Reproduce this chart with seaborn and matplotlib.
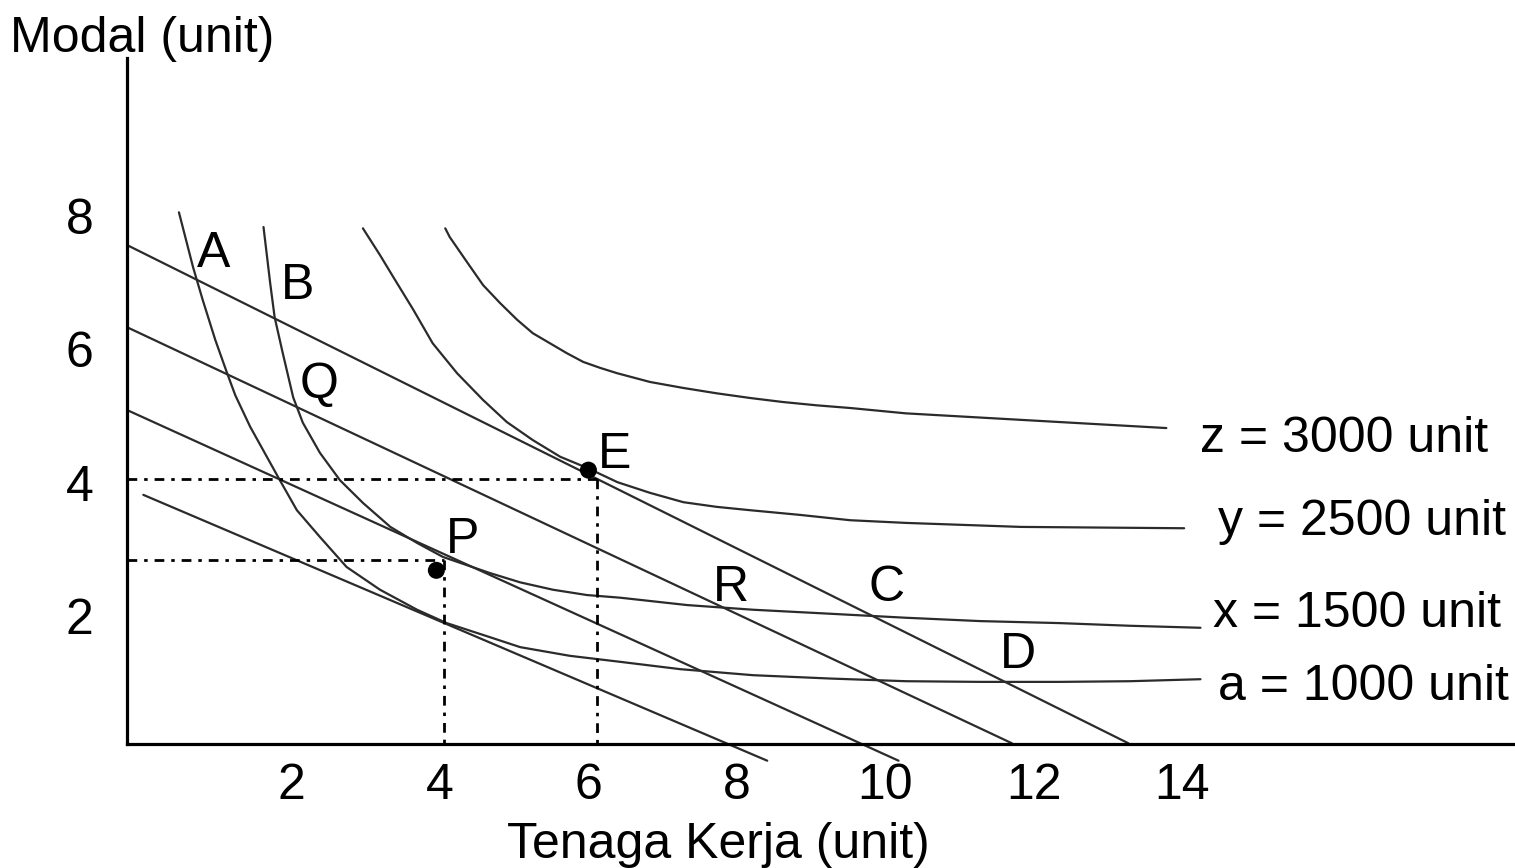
import pandas as pd
import matplotlib
matplotlib.use("Agg")
import matplotlib.pyplot as plt
import seaborn as sns

# isoquant curves (tenaga kerja, modal)
a_x = [0.48, 0.67, 0.80, 0.97, 1.13, 1.24, 1.44, 1.84, 2.07, 2.38, 2.74, 3.19, 3.69, 4.09, 4.67, 5.08, 5.75,
       6.43, 7.24, 8.22, 9.26, 10.28, 11.28, 12.35, 13.30, 14.25]
a_y = [8.05, 7.23, 6.74, 6.14, 5.64, 5.31, 4.84, 4.04, 3.59, 3.19, 2.74, 2.40, 2.10, 1.90, 1.69, 1.54, 1.41,
       1.32, 1.21, 1.12, 1.07, 1.03, 1.02, 1.02, 1.03, 1.06]
x_x = [1.62, 1.71, 1.77, 1.88, 2.02, 2.15, 2.38, 2.65, 2.96, 3.33, 3.69, 4.04, 4.67, 5.08, 5.52, 5.98, 6.43,
       7.33, 8.22, 9.26, 10.28, 11.28, 12.35, 13.30, 14.25]
x_y = [7.83, 6.99, 6.48, 5.94, 5.28, 4.90, 4.45, 4.04, 3.70, 3.34, 3.10, 2.89, 2.65, 2.51, 2.40, 2.32, 2.28,
       2.17, 2.10, 2.04, 1.98, 1.93, 1.90, 1.86, 1.83]
y_x = [2.96, 3.19, 3.37, 3.64, 3.90, 4.23, 4.58, 4.90, 5.25, 5.62, 5.99, 6.39, 6.83, 7.28, 7.73, 8.18, 8.85,
       9.53, 10.28, 11.83, 14.03]
y_y = [7.81, 7.41, 7.08, 6.59, 6.09, 5.64, 5.24, 4.91, 4.64, 4.39, 4.22, 4.01, 3.85, 3.71, 3.64, 3.59, 3.52,
       3.44, 3.40, 3.34, 3.32]
z_x = [4.07, 4.13, 4.36, 4.58, 4.81, 5.04, 5.25, 5.48, 5.71, 5.93, 6.16, 6.39, 6.83, 7.28, 7.73, 8.18, 8.62,
       9.08, 9.53, 10.28, 12.35, 13.79]
z_y = [7.81, 7.68, 7.31, 6.96, 6.69, 6.44, 6.24, 6.09, 5.94, 5.81, 5.72, 5.64, 5.51, 5.42, 5.34, 5.27, 5.21,
       5.16, 5.12, 5.04, 4.91, 4.82]
curve_names = ["a = 1000 unit", "x = 1500 unit", "y = 2500 unit", "z = 3000 unit"]

# isocost lines (start / end)
iso_x = [[-0.22, 13.28], [-0.22, 11.71], [-0.22, 10.18], [0.0, 8.41]]
iso_y = [[7.56, 0.10], [6.33, 0.10], [5.09, -0.16], [3.82, -0.16]]

# equilibrium points and their guide lines
pt_names = ["E", "P"]
pt_x = [6.00, 3.95]
pt_y = [4.19, 2.69]
guide_x = [6.12, 4.05]
guide_y = [4.06, 2.84]

x_ticks = [2, 4, 6, 8, 10, 12, 14]
y_ticks = [2, 4, 6, 8]

sns.set_style("white")
plt.rcParams["font.family"] = ["Liberation Sans", "DejaVu Sans"]
plt.rcParams["lines.scale_dashes"] = False
plt.rcParams["text.color"] = "black"
plt.rcParams["xtick.color"] = "black"
plt.rcParams["ytick.color"] = "black"

curves = pd.concat([
    pd.DataFrame({"tenaga": cx, "modal": cy, "kurva": name})
    for cx, cy, name in zip([a_x, x_x, y_x, z_x], [a_y, x_y, y_y, z_y], curve_names)
])
lines = pd.concat([
    pd.DataFrame({"tenaga": lx, "modal": ly, "garis": i})
    for i, (lx, ly) in enumerate(zip(iso_x, iso_y))
])

fig = plt.figure(figsize=(15.15, 8.68), dpi=100)
ax = fig.add_axes([127 / 1515, 124 / 868, 1388 / 1515, 686 / 868])
ink = "#2b2b2b"

sns.lineplot(data=curves, x="tenaga", y="modal", units="kurva", estimator=None,
             sort=False, color=ink, lw=1.6, ax=ax)
sns.lineplot(data=lines, x="tenaga", y="modal", units="garis", estimator=None,
             sort=False, color=ink, lw=1.6, ax=ax)
for line in ax.lines:
    line.set_clip_on(False)
    line.set_solid_joinstyle("round")

dash = (0, (7, 5, 2.5, 5))
for gx, gy in zip(guide_x, guide_y):
    ax.plot([-0.22, gx], [gy, gy], color="black", lw=2, ls=dash)
    ax.plot([gx, gx], [gy, 0.09], color="black", lw=2, ls=dash)

sns.scatterplot(x=pt_x, y=pt_y, color="black", s=150, edgecolor="none", ax=ax, zorder=5)

fs = 36
letters = {"A": (0.72, 7.23), "B": (1.86, 6.75), "Q": (2.11, 5.27), "E": (6.13, 4.22),
           "P": (4.08, 2.95), "R": (7.68, 2.23), "C": (9.77, 2.23), "D": (11.55, 1.23)}
for s, (tx, ty) in letters.items():
    ax.text(tx, ty, s, fontsize=fs, ha="left", va="baseline")

label_pos = [(14.48, 0.75), (14.42, 1.84), (14.48, 3.22), (14.25, 4.46)]
for name, (tx, ty) in zip(curve_names, label_pos):
    ax.text(tx, ty, name, fontsize=fs, ha="left", va="baseline")

ax.set_xlim(-0.22, 18.49)
ax.set_ylim(0.09, 10.36)
ax.set_xticks(x_ticks)
ax.set_yticks(y_ticks)
ax.tick_params(axis="x", length=0, pad=13.5, labelsize=fs, labelcolor="black")
ax.tick_params(axis="y", length=0, pad=24, labelsize=fs, labelcolor="black")
ax.set_xlabel("")
ax.set_ylabel("")
sns.despine(ax=ax)
for side in ["left", "bottom"]:
    ax.spines[side].set_linewidth(2.3)
    ax.spines[side].set_color("black")

fig.text(10 / 1515, (868 - 52) / 868, "Modal (unit)", fontsize=fs, ha="left", va="baseline")
fig.text(507 / 1515, 10 / 868, "Tenaga Kerja (unit)", fontsize=fs, ha="left", va="baseline")

fig.savefig("out.png", dpi=100)
